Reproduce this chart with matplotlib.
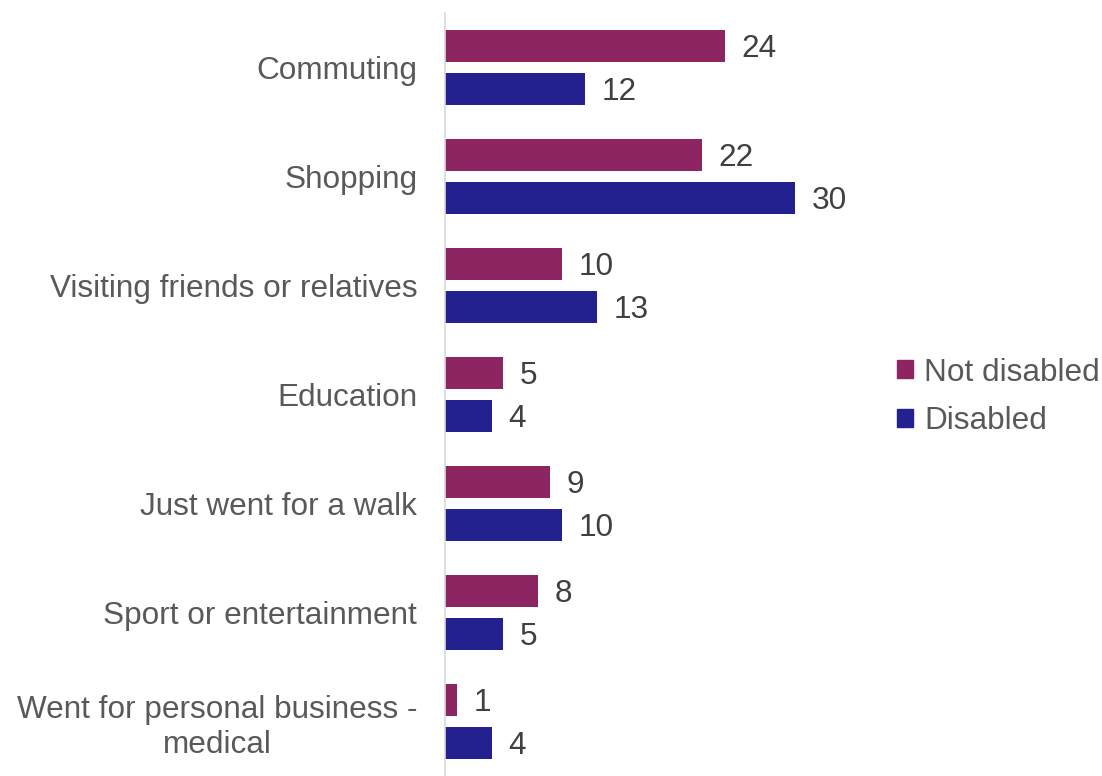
import matplotlib
matplotlib.use("Agg")
import matplotlib.pyplot as plt
from matplotlib.patches import Patch
import numpy as np

categories = [
    "Commuting",
    "Shopping",
    "Visiting friends or relatives",
    "Education",
    "Just went for a walk",
    "Sport or entertainment",
    "Went for personal business -\nmedical",
]
not_disabled = [24, 22, 10, 5, 9, 8, 1]
disabled = [12, 30, 13, 4, 10, 5, 4]
series_names = ["Not disabled", "Disabled"]

c_not = "#8E2563"
c_dis = "#22218F"
text_c = "#595959"

plt.rcParams["font.family"] = ["Liberation Sans", "DejaVu Sans"]
fs = 22.7

W, H = 1102, 776
fig = plt.figure(figsize=(W / 100, H / 100), dpi=100)
left_px, right_xmax = 445, 37
px_per_unit = 11.67
ax_w = right_xmax * px_per_unit
ax = fig.add_axes([left_px / W, 0.0, ax_w / W, 1 - 13 / H])

y = np.arange(len(categories))
h = 0.29
off = 0.197
b1 = ax.barh(y - off, not_disabled, height=h, color=c_not)
b2 = ax.barh(y + off, disabled, height=h, color=c_dis)

for bars, vals in ((b1, not_disabled), (b2, disabled)):
    for rect, v in zip(bars, vals):
        ax.annotate(str(v), (v, rect.get_y() + rect.get_height() / 2),
                    xytext=(12, -2), textcoords="offset points",
                    ha="left", va="center", fontsize=fs, color="#404040")

ax.set_xlim(0, right_xmax)
ax.set_ylim(len(categories) - 0.5, -0.5)
ax.set_yticks(y)
ax.set_yticklabels(categories, fontsize=fs, color=text_c, ha="right",
                   multialignment="center")
ax.tick_params(axis="y", length=0, pad=20)
ax.set_xticks([])
for s in ("top", "right", "bottom"):
    ax.spines[s].set_visible(False)
ax.spines["left"].set_color("#D9D9D9")
ax.spines["left"].set_linewidth(1.2)

handles = [Patch(color=c_not), Patch(color=c_dis)]
fig.legend(handles, series_names, loc="center left",
           bbox_to_anchor=(869 / W, 1 - 397 / H), frameon=False,
           fontsize=fs, labelcolor=text_c, handlelength=0.5, handleheight=0.5,
           handletextpad=0.35, labelspacing=0.6)

fig.savefig("out.png", dpi=100)
